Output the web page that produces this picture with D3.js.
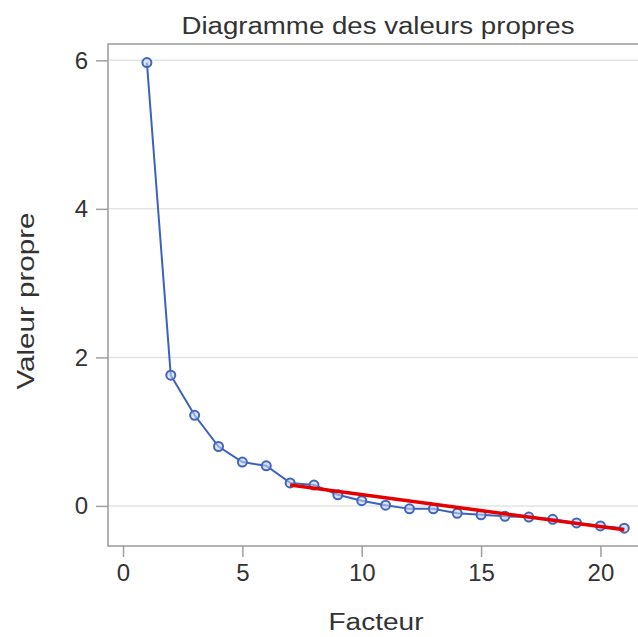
<!DOCTYPE html>
<html>
<head>
<meta charset="utf-8">
<script src="https://cdn.jsdelivr.net/npm/d3@7"></script>
<style>
body { margin: 0; background: #fff; overflow: hidden; }
text { font-family: "Liberation Sans", Arial, sans-serif; fill: #333; }
</style>
</head>
<body>
<svg width="638" height="637"></svg>
<script>
// valeurs propres par facteur
var facteurs = [1,2,3,4,5,6,7,8,9,10,11,12,13,14,15,16,17,18,19,20,21];
var valeurs = [5.97,1.76,1.22,0.80,0.59,0.54,0.31,0.28,0.15,0.07,0.01,-0.04,-0.04,-0.10,-0.12,-0.14,-0.15,-0.18,-0.23,-0.27,-0.30];
// droite ajustée (rouge)
var droiteX = [7, 21];
var droiteY = [0.28, -0.32];
var xTicks = [0, 5, 10, 15, 20];
var yTicks = [0, 2, 4, 6];

var svg = d3.select('svg');
var mLeft = 108, mRight = 641, mTop = 44, mBottom = 546;

var x = d3.scaleLinear().domain([-0.63, 21.7]).range([mLeft, mRight]);
var y = d3.scaleLinear().domain([-0.54, 6.22]).range([mBottom, mTop]);

// grille
svg.append('g').selectAll('line').data(yTicks).enter().append('line')
	.attr('x1', mLeft).attr('x2', mRight)
	.attr('y1', function(d){ return y(d); })
	.attr('y2', function(d){ return y(d); })
	.style('stroke', '#e4e4e4').style('stroke-width', 1.5);

// axes
var xAxis = svg.append('g').attr('transform', 'translate(0,' + mBottom + ')')
	.call(d3.axisBottom(x).tickValues(xTicks).tickFormat(d3.format('d')).tickSize(11).tickPadding(7));
var yAxis = svg.append('g').attr('transform', 'translate(' + mLeft + ',0)')
	.call(d3.axisLeft(y).tickValues(yTicks).tickFormat(d3.format('d')).tickSize(12).tickPadding(8));
[xAxis, yAxis].forEach(function(a){
	a.select('.domain').remove();
	a.selectAll('line').style('stroke', '#a0a0a0').style('stroke-width', 1.5);
	a.selectAll('text').style('font-size', '24px').style('fill', '#333')
		.style('font-family', '"Liberation Sans", Arial, sans-serif');
});

// cadre
svg.append('rect').attr('x', mLeft).attr('y', mTop)
	.attr('width', mRight - mLeft).attr('height', mBottom - mTop)
	.style('fill', 'none').style('stroke', '#9a9a9a').style('stroke-width', 1.5);

var pts = facteurs.map(function(f, i){ return [f, valeurs[i]]; });
var line = d3.line().x(function(d){ return x(d[0]); }).y(function(d){ return y(d[1]); });

svg.append('path').datum(pts).attr('d', line)
	.style('fill', 'none').style('stroke', '#3c62bd').style('stroke-width', 2);

svg.append('g').selectAll('circle').data(pts).enter().append('circle')
	.attr('cx', function(d){ return x(d[0]); })
	.attr('cy', function(d){ return y(d[1]); })
	.attr('r', 4.5)
	.style('fill', '#c4d2ee').style('fill-opacity', 0.6)
	.style('stroke', '#4166bd').style('stroke-width', 2);

var red = droiteX.map(function(v, i){ return [v, droiteY[i]]; });
svg.append('path').datum(red).attr('d', line)
	.style('fill', 'none').style('stroke', '#e60000').style('stroke-width', 3.5);

// titres
svg.append('text').attr('x', 378).attr('y', 34)
	.attr('text-anchor', 'middle').style('font-size', '23px')
	.attr('textLength', 393).attr('lengthAdjust', 'spacingAndGlyphs')
	.text('Diagramme des valeurs propres');
svg.append('text').attr('x', 376).attr('y', 630)
	.attr('text-anchor', 'middle').style('font-size', '23px')
	.attr('textLength', 95).attr('lengthAdjust', 'spacingAndGlyphs')
	.text('Facteur');
svg.append('text').attr('transform', 'translate(34,301) rotate(-90)')
	.attr('text-anchor', 'middle').style('font-size', '24px')
	.attr('textLength', 177).attr('lengthAdjust', 'spacingAndGlyphs')
	.text('Valeur propre');
</script>
</body>
</html>
